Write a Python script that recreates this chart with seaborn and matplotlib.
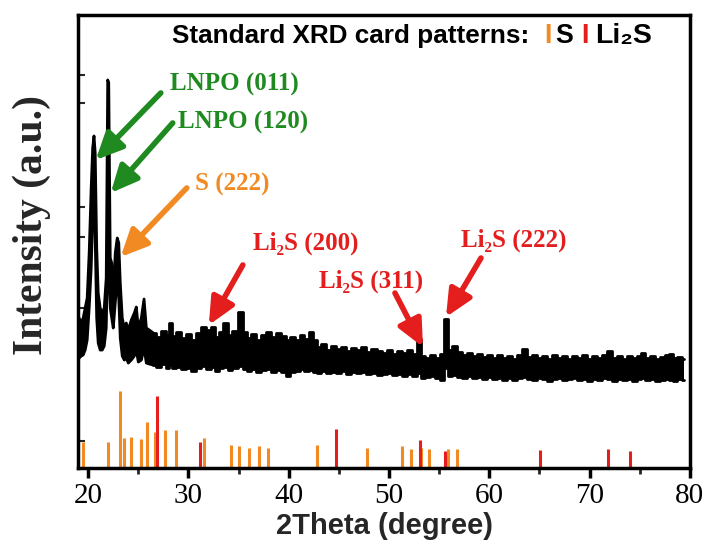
import numpy as np
import matplotlib
matplotlib.use("Agg")
import matplotlib.pyplot as plt
import seaborn as sns

# XRD pattern: 2theta, upper and lower edge of the noisy trace (a.u.)
two_theta = [19.1, 19.3, 19.5, 19.7, 19.9, 20.1, 20.3, 20.45, 20.58, 20.7, 20.85, 21.0, 21.2, 21.4,
             21.6, 21.8, 21.95, 22.05, 22.2, 22.35, 22.5, 22.7, 22.9, 23.05, 23.2, 23.4, 23.6, 23.8,
             24.0, 24.3, 24.6, 24.8, 25.0, 25.3, 25.57, 25.8, 26.1,
             26.5, 27.0, 27.5, 28.0, 28.2, 28.5, 29.0, 29.5, 30.0, 30.5, 31.0, 31.5, 32.0, 32.4,
             32.8, 33.2, 33.7, 34.1, 34.6, 35.2, 35.6, 36.0, 36.5, 37.0, 37.5, 38.0, 38.5, 39.0,
             39.5, 39.9, 40.4, 40.9, 41.3, 41.8, 42.2, 42.6, 43.0, 43.5, 44.0, 44.5, 45.0, 45.5,
             46.0, 46.5, 47.0, 47.5, 48.0, 48.5, 49.0, 49.5, 50.0, 50.5, 51.0, 51.5, 52.0, 52.5,
             53.0, 53.4, 53.8, 54.3, 54.8, 55.3, 55.7, 56.1, 56.5, 57.0, 57.5, 58.0, 58.5, 59.0,
             59.5, 60.0, 60.5, 61.0, 61.5, 62.0, 62.5, 63.0, 63.5, 64.0, 64.5, 65.0, 65.5, 66.0,
             66.5, 67.0, 67.5, 68.0, 68.5, 69.0, 69.5, 70.0, 70.5, 71.0, 71.5, 72.0, 72.5, 73.0,
             73.5, 74.0, 74.5, 75.0, 75.3, 75.8, 76.3, 76.8, 77.3, 77.8, 78.1, 78.5, 79.0, 79.4]
upper = [150, 145, 150, 160, 170, 215, 280, 320, 332, 315, 220, 175, 160, 155,
         160, 190, 388, 385, 210, 205, 170, 215, 230, 225, 185, 150, 140, 145,
         138, 148, 155, 161, 140, 150, 169, 140, 138,
         135, 131, 137, 133, 145, 132, 136, 130, 134, 128, 135, 141, 138, 141,
         131, 136, 145, 133, 137, 156, 136, 130, 134, 128, 133, 136, 131, 135,
         132, 128, 131, 128, 133, 129, 136, 128, 121, 124, 118, 122, 119, 121,
         117, 120, 118, 121, 116, 119, 117, 115, 118, 114, 117, 115, 118, 114,
         129, 112, 110, 113, 110, 114, 149, 118, 122, 116, 113, 115, 112, 114,
         111, 113, 110, 113, 110, 112, 109, 113, 119, 111, 113, 110, 112, 109,
         113, 110, 112, 109, 112, 110, 113, 109, 112, 110, 113, 117, 110, 112,
         109, 112, 110, 112, 115, 110, 112, 109, 111, 113, 114, 110, 111, 109]
lower = [110, 112, 113, 118, 128, 160, 200, 250, 300, 230, 150, 125, 118, 118,
         122, 140, 220, 200, 160, 150, 140, 165, 190, 170, 130, 112, 108, 110,
         105, 108, 112, 118, 106, 108, 120, 105, 104,
         103, 101, 104, 100, 103, 100, 101, 99, 100, 97, 100, 102, 99, 101,
         97, 100, 101, 98, 100, 102, 99, 97, 99, 96, 98, 99, 96, 98,
         96, 92, 96, 97, 99, 97, 98, 96, 95, 97, 95, 96, 95, 97,
         94, 96, 95, 96, 94, 95, 93, 94, 95, 93, 94, 92, 94, 92,
         95, 90, 91, 92, 90, 88, 100, 92, 93, 91, 90, 92, 90, 91,
         89, 91, 89, 90, 88, 90, 88, 90, 91, 89, 88, 90, 89, 87,
         89, 90, 88, 89, 90, 88, 89, 87, 89, 88, 90, 89, 87, 89,
         88, 89, 87, 89, 90, 88, 89, 87, 88, 89, 88, 87, 89, 88]

# Standard card sticks
s_pos = [19.48, 21.95, 23.21, 23.54, 24.24, 25.27, 25.9, 26.64, 27.67, 28.73, 31.53, 34.22,
         35.02, 36.02, 37.05, 37.95, 42.8, 47.8, 51.26, 52.19, 53.2, 53.95, 55.85, 56.78]
s_int = [25.7, 25.7, 77, 29.7, 31, 29.3, 45.7, 36.3, 37.7, 37.7, 29.7, 23.3,
         21.7, 19.7, 21.7, 19.7, 23.3, 20.3, 22, 19.3, 20, 19.3, 19.3, 18.7]
li2s_pos = [26.9, 31.16, 44.73, 53.05, 55.58, 65.09, 71.88, 74.01]
li2s_int = [72.3, 25.7, 38.7, 28.3, 17, 18.3, 19.3, 16.7]

GREEN = "#1f8a1f"
ORANGE = "#f18a22"
RED = "#e41d1d"

sns.set_theme(style="ticks")
plt.rcParams["font.family"] = ["Liberation Serif", "DejaVu Serif"]
plt.rcParams["axes.linewidth"] = 2.5

fig = plt.figure(figsize=(7.04, 5.52), dpi=100)
ax = fig.add_axes([0.111, 0.152, 0.869, 0.821])

# sticks at the bottom
ax.vlines(s_pos, 0, s_int, color=ORANGE, lw=2.2)
ax.vlines(li2s_pos, 0, li2s_int, color=RED, lw=2.2)

# measured pattern: smooth through the main peaks, stepped in the noisy tail
n_pk = 38
x_pk, up_pk, lo_pk = two_theta[:n_pk], upper[:n_pk], lower[:n_pk]
x_tl, up_tl, lo_tl = two_theta[n_pk - 1:], upper[n_pk - 1:], lower[n_pk - 1:]
ax.fill_between(x_pk, lo_pk, up_pk, color="black", lw=0)
ax.fill_between(x_tl, lo_tl, up_tl, color="black", lw=0, step="mid")
for xs, ys, ds in [(x_pk, up_pk, "default"), (x_pk, lo_pk, "default"),
                   (x_tl, up_tl, "steps-mid"), (x_tl, lo_tl, "steps-mid")]:
    sns.lineplot(x=xs, y=ys, color="black", lw=2, ax=ax, sort=False, drawstyle=ds)

ax.set_xlim(19.0, 80)
ax.set_ylim(0, 453)
ax.set_xticks(range(20, 81, 10))
ax.set_xticks(range(25, 80, 10), minor=True)
ax.set_yticks([27, 130, 160, 231, 261, 365, 393])
ax.set_yticklabels([])
ax.tick_params(axis="x", which="major", direction="out", length=7, width=2.5,
               labelsize=21, pad=4, colors="black")
ax.tick_params(axis="x", which="minor", direction="out", length=4, width=2)
ax.tick_params(axis="y", direction="in", length=5, width=1.5, left=True)
for sp in ax.spines.values():
    sp.set_color("black")
    sp.set_linewidth(2.5)

ax.set_xlabel("2Theta (degree)", family=["Liberation Sans", "DejaVu Sans"],
              fontweight="bold", fontsize=21, labelpad=2)
ax.set_ylabel("Intensity (a.u.)", fontweight="bold", fontsize=30)
ax.yaxis.set_label_coords(-0.044, 0.536)

# peak labels with arrows
labels = [
    ("LNPO (011)", GREEN, (28.2, 383), (27.24, 375), (20.75, 308)),
    ("LNPO (120)", GREEN, (29.0, 345), (28.43, 345), (22.25, 275)),
    ("S (222)", ORANGE, (30.7, 284), (29.83, 280), (23.24, 211)),
    ("Li\u2082S (200)", RED, (36.4, 225), (35.42, 203), (32.03, 143)),
    ("Li\u2082S (311)", RED, (43.0, 187), (50.59, 175), (53.38, 121)),
    ("Li\u2082S (222)", RED, (57.2, 228), (59.17, 210), (55.68, 151)),
]
for txt, col, tpos, tail, tip in labels:
    ax.text(tpos[0], tpos[1], txt, color=col, fontsize=18, fontweight="bold",
            ha="left", va="center", family=["Liberation Serif", "DejaVu Serif"])
    ax.annotate("", xy=tip, xytext=tail,
                arrowprops=dict(arrowstyle="-|>,head_length=0.9,head_width=0.42",
                                color=col, lw=4, mutation_scale=18,
                                shrinkA=0, shrinkB=0))

# card legend line at the top
sans = ["Liberation Sans", "DejaVu Sans"]
ax.text(28.4, 432, "Standard XRD card patterns:", fontsize=18.8, fontweight="bold",
        family=sans, ha="left", va="center", color="black")
ax.text(65.8, 432, "I", fontsize=19.3, fontweight="bold", family=sans,
        ha="center", va="center", color=ORANGE)
ax.text(66.6, 432, "S", fontsize=19.3, fontweight="bold", family=sans,
        ha="left", va="center", color="black")
ax.text(69.5, 432, "I", fontsize=19.3, fontweight="bold", family=sans,
        ha="center", va="center", color=RED)
ax.text(70.5, 432, "Li\u2082S", fontsize=20.5, fontweight="bold", family=sans,
        ha="left", va="center", color="black")

fig.savefig("out.png", dpi=100)
